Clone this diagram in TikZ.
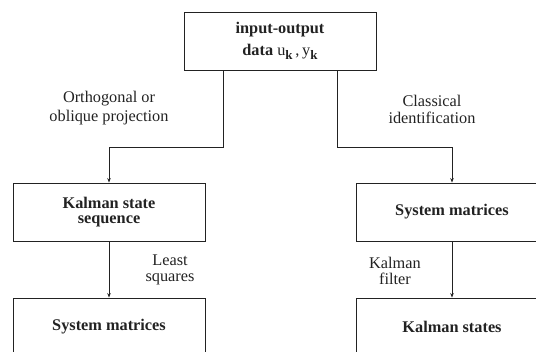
\documentclass[tikz,border=0pt]{standalone}
\usepackage{fontspec}
\setmainfont{Liberation Serif}
\usetikzlibrary{arrows.meta}
\definecolor{ink}{HTML}{222222}
\tikzset{
  box/.style={draw=ink, line width=0.9pt, minimum width=192pt, minimum height=58pt,
    inner sep=0pt, align=center, text=ink, font=\bfseries\fontsize{16.3}{15.5}\selectfont},
  lbl/.style={align=center, text=ink, inner sep=0pt},
  conn/.style={draw=ink, line width=0.9pt},
  arr/.style={conn, -{Stealth[length=4.5pt,width=3.5pt]}}
}
\begin{document}
\begin{tikzpicture}[x=1pt,y=-1pt]
\useasboundingbox (0,0) rectangle (536,352);
\node[box, minimum height=58pt, font=\bfseries\fontsize{16.3}{22}\selectfont] (top) at (280,41)
  {input-output\\data {\mdseries u\raisebox{-0.45ex}{\fontsize{13}{13}\selectfont\bfseries k}\,,\,y\raisebox{-0.45ex}{\fontsize{13}{13}\selectfont\bfseries k}}};
\node[box] (ks) at (109,212) {Kalman state\\sequence};
\node[box] (sm1) at (109,327) {System matrices};
\node[box] (sm2) at (452,212) {System matrices};
\node[box] (kst) at (452,327) {Kalman states};
\coordinate (jl) at (223,147);
\coordinate (jr) at (337,147);
\draw[arr] (top.south -| jl) -- (jl) -| (ks.north);
\draw[arr] (top.south -| jr) -- (jr) -| (sm2.north);
\draw[arr] (ks.south) -- (sm1.north);
\draw[arr] (sm2.south) -- (kst.north);
\node[lbl, font=\fontsize{16.3}{19}\selectfont] (l1) at (109,108) {Orthogonal or\\oblique projection};
\node[lbl, font=\fontsize{16.3}{17}\selectfont] (l2) at (432,109) {Classical\\identification};
\node[lbl, font=\fontsize{16.3}{15.5}\selectfont] (l3) at (170,270) {Least\\squares};
\node[lbl, font=\fontsize{16.3}{16}\selectfont] (l4) at (395,271) {Kalman\\filter};
\end{tikzpicture}
\end{document}
